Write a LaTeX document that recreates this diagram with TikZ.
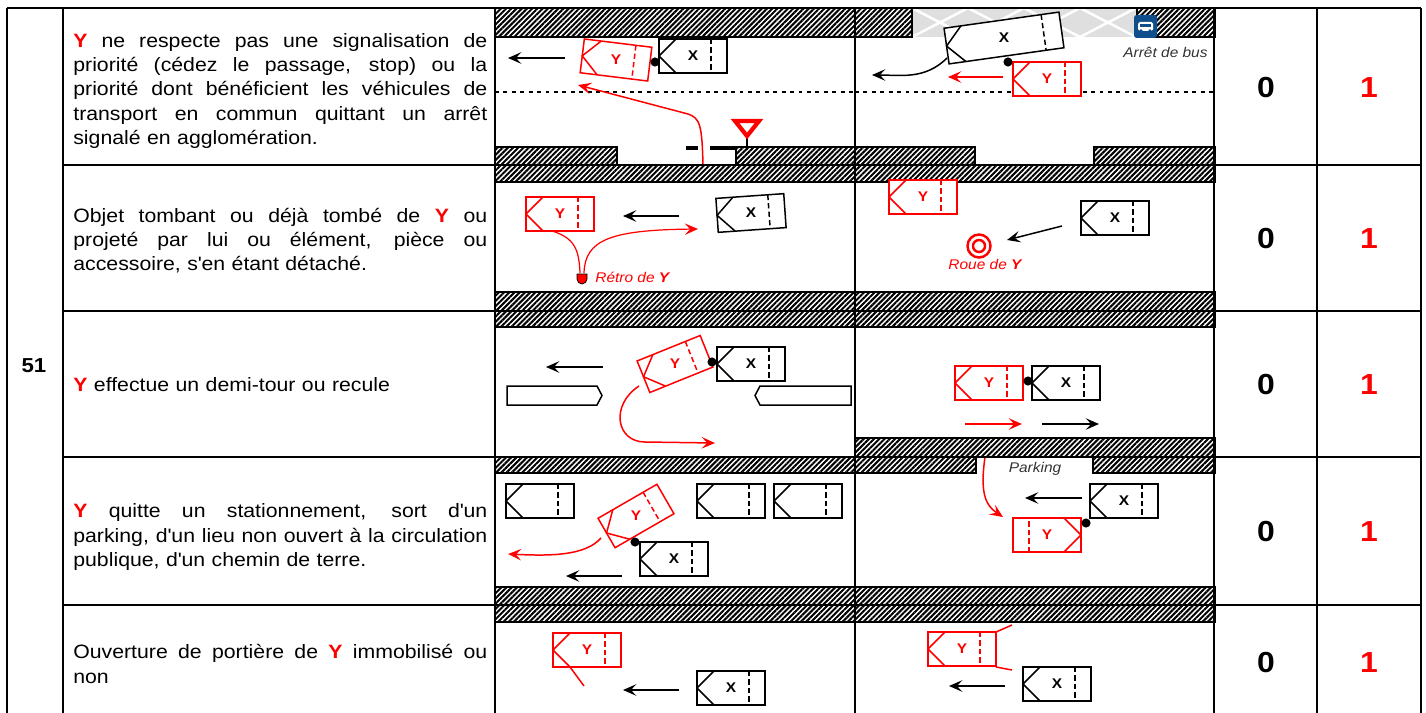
\documentclass[tikz,border=0pt]{standalone}
\usepackage{fontspec}
\setmainfont{Liberation Sans}[FakeStretch=1.1]
\usetikzlibrary{arrows.meta,patterns.meta,positioning}
\definecolor{busblue}{RGB}{16,78,140}
\tikzstyle{grid} = [line width=1.1pt]
\tikzstyle{hatch} = [draw, line width=0.6pt, pattern={Lines[angle=45,distance=2.1pt,line width=1.15pt]}]
\tikzstyle{move} = [line width=0.85pt, -{Stealth[length=7.5pt,width=6.5pt,inset=3pt]}]
\tikzstyle{hit} = [circle, fill=black, inner sep=0pt, minimum size=5.2pt]
\tikzstyle{desc} = [anchor=west, inner sep=0pt, align=left, text width=8.28cm, font=\fontsize{11}{13.8}\selectfont]
\tikzstyle{score} = [font=\fontsize{16.5}{18}\selectfont\bfseries]
\tikzstyle{tag} = [inner sep=0pt, font=\fontsize{8}{9}\selectfont\itshape]
\tikzstyle{lane} = [line width=1.4pt, dash pattern=on 2.2pt off 2.6pt]
\tikzset{
  pics/car/.style={code={
    \draw[line width=0.85pt, fill=white] (-34,-17) rectangle (34,17);
    \draw[line width=0.85pt] (-17,-17) -- (-34,0) -- (-17,17);
    \draw[line width=0.85pt, dash pattern=on 3pt off 1.8pt] (18,-17) -- (18,17);
    \node[font=\fontsize{8}{9}\selectfont\bfseries] at (0,0) {#1};
  }},
  pics/car/.default={},
  pics/bus/.style={code={
    \draw[line width=0.85pt, fill=white] (-58,-18) rectangle (58,18);
    \draw[line width=0.85pt] (-41,-18) -- (-58,0) -- (-41,18);
    \draw[line width=0.85pt, dash pattern=on 3pt off 1.8pt] (40,-18) -- (40,18);
    \node[font=\fontsize{8}{9}\selectfont\bfseries] at (0,0) {#1};
  }},
}
% one justified line of a description
\newcommand{\jl}[1]{\leavevmode\hbox to 8.28cm{\spaceskip=.3em plus 1fil\xspaceskip=.3em plus 1fil\relax #1}}
\newcommand{\vY}{\textcolor{red}{\textbf{Y}}}

\begin{document}
\begin{tikzpicture}[x=0.02cm, y=-0.02cm]
\useasboundingbox (0,0) rectangle (1426,713);
\clip (0,0) rectangle (1426,713);

% row 1 : priorite
\draw[hatch] (495,8) rectangle (855,37);
\draw[hatch] (495,147) rectangle (617,165);
\draw[hatch] (736,147) rectangle (855,165);
\draw[lane] (495,92) -- (855,92);
\draw[line width=2.2pt] (686,148) -- (698,148) (710,148) -- (735,148);
\draw[line width=1pt] (747,136) -- (747,150);
\draw[red, line width=2.4pt, fill=white] (735,121) -- (759,121) -- (747,136) -- cycle;
\pic at (693,56) {car=X};
\pic[red, rotate=-7] at (616,60) {car=Y};
\node[hit] (hit1) at (655,62) {};
\coordinate (go1a) at (565,58);
\coordinate (go1b) at (508,58);
\draw[move] (go1a) -- (go1b);
\coordinate (yy1a) at (703,165);
\coordinate (yy1b) at (578,85);
\draw[move, red] (yy1a) .. controls (702,125) and (700,118) .. (688,114) -- (yy1b);

\fill[gray!25] (912,8) rectangle (1137,37);
\begin{scope}
\clip (912,8) rectangle (1137,37);
\foreach \k in {0,...,3}
  \draw[white, line width=1.4pt] ({912+\k*56},8) -- ({968+\k*56},37) ({968+\k*56},8) -- ({912+\k*56},37);
\end{scope}
\draw[hatch] (855,8) rectangle (912,37);
\draw[hatch] (1137,8) rectangle (1215,37);
\draw[hatch] (855,147) rectangle (975,165);
\draw[hatch] (1094,147) rectangle (1215,165);
\draw[lane] (855,92) -- (1215,92);
\fill[busblue, rounded corners=1.5pt] (1134,15) rectangle (1157,38);
\fill[white, rounded corners=1pt] (1138,22) rectangle (1153,31);
\fill[busblue] (1140,24) rectangle (1151,27);
\fill[busblue] (1141,31) circle (1.8) (1150,31) circle (1.8);
\node[tag, black!80, anchor=west] (busstop) at (1123,52) {Arrêt de bus};
\pic[rotate=8] at (1004,38) {bus=X};
\pic[red] at (1047,79) {car=Y};
\node[hit] (hit2) at (1008,62) {};
\coordinate (go2a) at (947,58);
\coordinate (go2b) at (872,75);
\draw[move] (go2a) .. controls (925,80) and (900,75) .. (go2b);
\coordinate (yy2a) at (1003,77);
\coordinate (yy2b) at (948,77);
\draw[move, red] (yy2a) -- (yy2b);

% row 2 : objet
\draw[hatch] (495,165) rectangle (855,182);
\draw[hatch] (495,292) rectangle (855,311);
\pic[red] at (560,214) {car=Y};
\pic[rotate=4] at (751,213) {car=X};
\coordinate (go3a) at (679,216);
\coordinate (go3b) at (623,216);
\draw[move] (go3a) -- (go3b);
\filldraw[red, draw=black, line width=0.4pt] (577,274) -- (587,274) -- (587,279) arc[start angle=0, end angle=180, radius=5] -- cycle;
\coordinate (mirror) at (582,276);
\coordinate (yy3a) at (584,273);
\coordinate (yy3b) at (698,229);
\draw[red, line width=0.7pt] (552,231) .. controls (575,238) and (579,250) .. (580,273);
\draw[move, red, line width=0.7pt] (yy3a) .. controls (585,240) and (610,230) .. (yy3b);
\node[tag, red, anchor=west] (retro) at (595,277) {Rétro de \textbf{Y}};

\draw[hatch] (855,165) rectangle (1215,182);
\draw[hatch] (855,292) rectangle (1215,311);
\pic[red] at (923,197) {car=Y};
\pic at (1115,218) {car=X};
\draw[red, line width=1.4pt] (979,246) circle (11.5) (979,246) circle (6);
\node[tag, red] (roue) at (985,264) {Roue de \textbf{Y}};
\coordinate (go4a) at (1062,226);
\coordinate (go4b) at (1007,240);
\draw[move] (go4a) -- (go4b);

% row 3 : demi-tour
\draw[hatch] (495,311) rectangle (855,327);
\draw[line width=0.85pt, fill=white] (507,386) -- (597,386) -- (602,395.5) -- (597,405) -- (507,405) -- cycle;
\draw[line width=0.85pt, fill=white] (851,386) -- (760,386) -- (755,395.5) -- (760,405) -- (851,405) -- cycle;
\coordinate (go5a) at (603,367);
\coordinate (go5b) at (546,367);
\draw[move] (go5a) -- (go5b);
\pic[red, rotate=22] at (675,364) {car=Y};
\pic at (751,364) {car=X};
\node[hit] (hit3) at (712,362) {};
\coordinate (yy5a) at (639,386);
\coordinate (yy5b) at (715,443);
\draw[move, red] (yy5a) .. controls (610,405) and (616,442) .. (645,442) -- (yy5b);

\draw[hatch] (855,311) rectangle (1215,327);
\draw[hatch] (855,438) rectangle (1215,457);
\pic[red] at (989,383) {car=Y};
\pic at (1066,383) {car=X};
\node[hit] (hit4) at (1028,381) {};
\coordinate (yy6a) at (965,424);
\coordinate (yy6b) at (1022,424);
\draw[move, red] (yy6a) -- (yy6b);
\coordinate (go6a) at (1042,424);
\coordinate (go6b) at (1099,424);
\draw[move] (go6a) -- (go6b);

% row 4 : stationnement
\draw[hatch] (495,457) rectangle (855,473);
\draw[hatch] (495,587) rectangle (855,605);
\foreach \xx in {540,731,808}
  \pic at (\xx,501) {car};
\pic[red, rotate=30] at (636,516) {car=Y};
\pic at (674,559) {car=X};
\node[hit] (hit5) at (635,542) {};
\coordinate (yy7a) at (601,538);
\coordinate (yy7b) at (508,554);
\draw[move, red] (yy7a) .. controls (585,556) and (550,556) .. (yy7b);
\coordinate (go7a) at (622,576);
\coordinate (go7b) at (566,576);
\draw[move] (go7a) -- (go7b);

\draw[hatch] (855,457) rectangle (976,473);
\draw[hatch] (1093,457) rectangle (1215,473);
\draw[hatch] (855,587) rectangle (1215,605);
\node[tag, black!80] (parking) at (1035,469) {Parking};
\pic at (1124,501) {car=X};
\pic[red, rotate=180] at (1047,535) {car=Y};
\node[hit] (hit6) at (1086,523) {};
\coordinate (go8a) at (1082,498);
\coordinate (go8b) at (1025,498);
\draw[move] (go8a) -- (go8b);
\coordinate (yy8a) at (985,457);
\coordinate (yy8b) at (1003,517);
\draw[move, red] (yy8a) .. controls (980,492) and (985,505) .. (yy8b);

% row 5 : portiere
\draw[hatch] (495,605) rectangle (855,622);
\pic[red] at (587,650) {car=Y};
\draw[red, line width=0.85pt] (570,667) -- (584,686);
\pic at (731,688) {car=X};
\coordinate (go9a) at (679,690);
\coordinate (go9b) at (623,690);
\draw[move] (go9a) -- (go9b);

\draw[hatch] (855,605) rectangle (1215,622);
\pic[red] at (962,649) {car=Y};
\draw[red, line width=0.85pt] (996,632) -- (1012,625) (996,667) -- (1012,670);
\pic at (1057,684) {car=X};
\coordinate (go10a) at (1005,686);
\coordinate (go10b) at (949,686);
\draw[move] (go10a) -- (go10b);

% texts
\node[font=\fontsize{11.5}{13}\selectfont\bfseries] (num) at (34,366) {51};
\node[desc] (desc1) at (73,91) {\jl{\vY{} ne respecte pas une signalisation de}\\
  \jl{priorité (cédez le passage, stop) ou la}\\
  \jl{priorité dont bénéficient les véhicules de}\\
  \jl{transport en commun quittant un arrêt}\\
  signalé en agglomération.};
\node[desc] (desc2) at (73,240.5) {\jl{Objet tombant ou déjà tombé de \vY{} ou}\\
  \jl{projeté par lui ou élément, pièce ou}\\
  accessoire, s\textquotesingle en étant détaché.};
\node[desc] (desc3) at (73,385) {\vY{} effectue un demi-tour ou recule};
\node[desc] (desc4) at (73,537) {\jl{\vY{} quitte un stationnement, sort d\textquotesingle un}\\
  \jl{parking, d\textquotesingle un lieu non ouvert à la circulation}\\
  publique, d\textquotesingle un chemin de terre.};
\node[desc] (desc5) at (73,664) {\jl{Ouverture de portière de \vY{} immobilisé ou}\\
  non};
\foreach \yy/\k in {88/1,239/2,385/3,532/4,663/5} {
  \node[score] (zero\k) at (1266,\yy) {0};
  \node[score, red] (one\k) at (1369,\yy) {1};
}

% table
\draw[grid] (7,8) -- (1421,8);
\foreach \xx in {7,63,495,855,1214,1317,1421}
  \draw[grid] (\xx,8) -- (\xx,720);
\foreach \yy in {165,311,457,605}
  \draw[grid] (63,\yy) -- (1421,\yy);
\end{tikzpicture}
\end{document}
